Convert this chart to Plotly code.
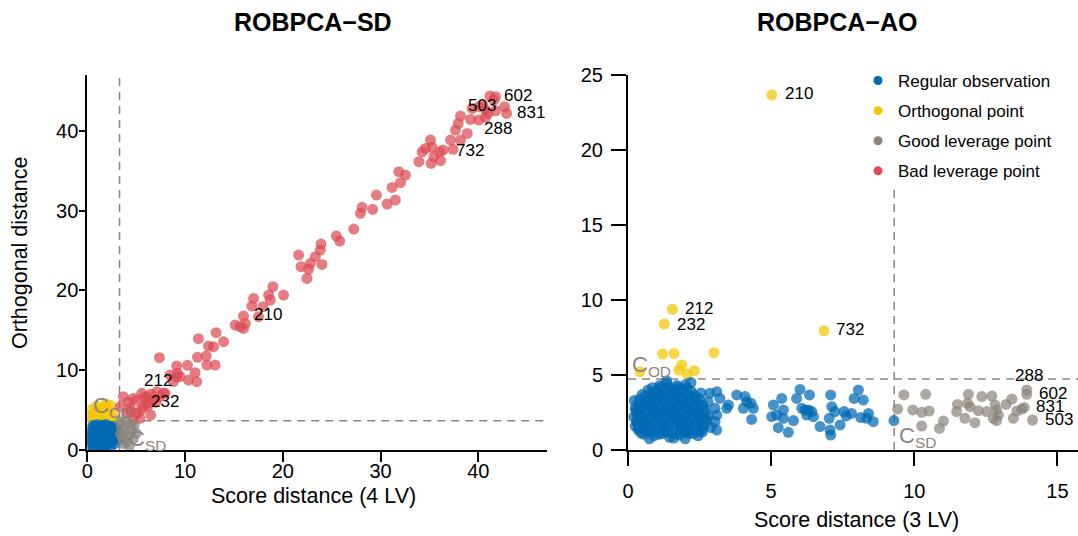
import plotly.graph_objects as go

# ---------------- ROBPCA-SD (4 LV) ----------------
sd_reg_x = [0.35, 0.6, 0.9, 1.2, 1.5, 1.8, 2.1, 0.4, 0.7, 1.0, 1.3, 1.6, 1.9, 2.2, 2.5,
            0.3, 0.6, 0.9, 1.2, 1.5, 1.8, 2.1, 2.4, 2.7, 0.45, 0.75, 1.05, 1.35, 1.65, 1.95,
            2.25, 2.55, 2.85, 0.5, 0.8, 1.1, 1.4, 1.7, 2.0, 2.3, 2.6, 3.0, 0.6, 1.0, 1.3,
            1.6, 1.9, 2.2, 0.25, 0.2, 2.9, 3.1, 3.2, 2.8, 1.1, 0.7, 1.75, 2.4, 3.0, 2.6]
sd_reg_y = [0.6, 0.4, 0.5, 0.3, 0.5, 0.4, 0.7, 1.1, 0.9, 1.2, 0.9, 1.1, 1.0, 1.3, 1.0,
            1.6, 1.8, 1.5, 1.7, 1.9, 1.6, 1.9, 1.7, 1.4, 2.3, 2.5, 2.2, 2.4, 2.6, 2.3,
            2.5, 2.2, 2.0, 2.8, 2.9, 2.7, 3.0, 2.8, 2.7, 2.9, 2.6, 2.4, 3.1, 3.2, 3.0,
            3.1, 3.2, 3.0, 2.0, 1.2, 1.8, 2.2, 1.3, 0.8, 0.15, 0.2, 0.2, 0.4, 2.7, 3.0]

sd_orth_x = [0.3, 0.6, 1.0, 1.4, 1.8, 2.2, 2.6, 0.5, 1.2, 2.0, 2.8, 1.6, 0.9, 1.9, 0.35, 2.4]
sd_orth_y = [4.2, 4.6, 4.9, 5.2, 5.4, 5.0, 4.5, 3.9, 4.3, 4.2, 3.9, 3.9, 5.5, 5.8, 5.0, 5.6]

sd_good_x = [3.5, 3.8, 4.1, 4.5, 3.6, 4.0, 4.3, 3.4, 4.8, 3.7, 5.0, 4.4, 3.9, 4.7, 3.4]
sd_good_y = [2.9, 2.3, 1.8, 2.5, 1.5, 1.0, 0.5, 3.5, 3.1, 0.8, 2.1, 3.3, 3.6, 1.4, 2.0]

sd_bad_x = [41.19, 41.77, 41.60, 40.47, 40.06, 39.38, 40.75, 41.77, 42.69, 42.90, 40.99,
            39.21, 40.06, 40.75, 38.18, 37.95, 37.67, 38.87, 38.18, 37.16, 37.43, 36.41,
            36.07, 35.11, 35.28, 34.60, 34.26, 33.92, 35.18, 36.14, 35.45, 31.87, 32.55,
            32.04, 31.18, 31.52, 30.67, 29.58, 28.11, 27.94, 29.20, 27.26, 25.48, 25.82,
            23.91, 23.84, 23.33, 24.01, 22.82, 22.64, 21.86, 21.62, 22.47, 20.08, 18.99,
            18.55, 18.72, 17.01, 17.97, 16.84, 17.52, 15.98, 15.13, 15.64, 16.16, 15.98,
            13.94, 13.18, 12.91, 12.40, 11.37, 11.27, 12.16, 13.08, 12.23, 11.03, 11.20,
            10.35, 9.50, 9.15, 10.25, 9.22, 7.38, 8.81, 9.15, 8.47, 7.79, 7.11, 5.57,
            4.71, 3.69, 4.37, 5.06, 5.74, 6.08, 6.49, 5.40, 4.71, 4.03, 3.35, 7.96, 7.45,
            6.76, 6.08, 4.2, 5.0, 5.8, 6.5, 4.5, 5.5, 6.2, 7.0]
sd_bad_y = [44.36, 44.28, 43.86, 43.23, 43.02, 42.81, 42.60, 42.52, 43.02, 42.19, 42.19,
            41.43, 41.35, 41.69, 41.85, 40.93, 40.10, 39.68, 38.84, 38.84, 37.68, 37.59,
            37.38, 38.84, 37.93, 37.80, 37.38, 36.13, 35.92, 36.26, 36.76, 34.88, 34.46,
            33.50, 32.91, 31.33, 30.83, 31.95, 30.41, 29.66, 30.16, 27.69, 26.81, 26.19,
            25.81, 25.06, 24.23, 23.26, 23.39, 22.64, 22.97, 24.43, 21.51, 19.42, 20.47,
            19.42, 18.80, 19.00, 17.96, 18.04, 16.71, 16.79, 15.66, 15.45, 15.87, 15.24,
            13.57, 14.70, 12.95, 13.03, 13.95, 11.61, 11.78, 10.65, 10.65, 9.69, 8.56,
            8.77, 9.19, 10.52, 10.61, 9.61, 11.57, 8.56, 9.19, 9.40, 7.10, 7.31, 7.10,
            6.47, 6.68, 5.22, 4.59, 5.43, 5.85, 4.38, 3.97, 3.76, 4.59, 5.43, 7.10, 6.68,
            6.26, 6.68, 6.0, 6.2, 6.6, 7.0, 4.8, 5.0, 5.5, 6.0]

sd_cut_sd, sd_cut_od = 3.3, 3.68
sd_label_ids = ["602", "503", "831", "288", "732", "210", "212", "232"]
sd_label_x = [42.46, 38.70, 43.75, 40.41, 37.50, 16.84, 5.57, 6.35]
sd_label_y = [44.49, 43.23, 42.27, 40.31, 37.59, 17.00, 8.65, 6.05]

# ---------------- ROBPCA-AO (3 LV) ----------------
ao_reg_x = [0.55, 0.9, 1.2, 1.45, 1.8, 2.1, 2.45,
            0.35, 0.65, 0.95, 1.25, 1.55, 1.85, 2.15, 2.5,
            0.25, 0.5, 0.8, 1.1, 1.4, 1.7, 2.0, 2.3, 2.65,
            0.3, 0.6, 0.9, 1.2, 1.5, 1.8, 2.1, 2.4, 2.75,
            0.2, 0.45, 0.75, 1.05, 1.35, 1.65, 1.95, 2.25, 2.55,
            0.3, 0.6, 0.9, 1.2, 1.5, 1.8, 2.1, 2.4, 2.7,
            0.25, 0.55, 0.85, 1.15, 1.45, 1.75, 2.05, 2.35, 2.65,
            0.35, 0.65, 0.95, 1.25, 1.55, 1.85, 2.15, 2.45,
            0.4, 0.7, 1.0, 1.3, 1.6, 1.9, 2.2, 2.5,
            0.5, 0.8, 1.1, 1.4, 1.7, 2.0, 2.3,
            0.7, 1.0, 1.3, 1.6, 1.9, 2.2,
            1.1, 1.35, 1.7, 2.0,
            0.45, 0.78, 1.08, 1.38, 1.68, 1.98, 2.28, 0.32, 0.62, 0.92, 1.22, 1.52, 1.82,
            2.12, 2.42, 0.4, 0.7, 1.0, 1.3, 1.6, 1.9, 2.2, 2.5, 0.52, 0.82, 1.12, 1.42,
            1.72, 2.02, 2.32, 0.6, 0.9, 1.2, 1.5, 1.8, 2.1, 2.38, 0.85, 1.15, 1.45, 1.75,
            2.05, 0.28, 0.22, 0.38, 2.6, 2.7, 2.58,
            1.35, 2.2, 2.55, 2.8, 2.9, 0.75, 1.6, 2.0, 2.8, 2.6,
            3.10, 3.21, 2.86, 3.04, 3.45, 3.51, 3.10, 3.04, 3.10, 3.80, 4.09, 4.15,
            4.30, 4.38, 4.03, 4.32, 5.08, 5.37, 5.19, 5.02, 5.43, 5.43, 5.25, 5.60,
            5.78, 6.01, 5.89, 6.07, 6.18, 6.34, 6.30, 6.42, 6.24, 6.48, 6.71, 7.08,
            7.12, 7.03, 7.23, 7.06, 7.08, 7.41, 7.55, 7.62, 7.81, 7.90, 8.05, 8.22,
            8.40, 8.34, 8.57, 8.13, 9.29]
ao_reg_y = [1.05, 0.95, 1.1, 0.85, 1.0, 1.1, 0.95,
            1.35, 1.25, 1.4, 1.3, 1.2, 1.4, 1.3, 1.25,
            1.6, 1.7, 1.55, 1.65, 1.6, 1.7, 1.55, 1.65, 1.6,
            1.95, 1.85, 2.0, 1.9, 1.95, 1.85, 2.0, 1.9, 1.95,
            2.2, 2.3, 2.15, 2.25, 2.2, 2.3, 2.15, 2.25, 2.2,
            2.5, 2.45, 2.6, 2.5, 2.55, 2.45, 2.6, 2.5, 2.55,
            2.8, 2.9, 2.75, 2.85, 2.8, 2.9, 2.75, 2.85, 2.8,
            3.1, 3.15, 3.05, 3.2, 3.1, 3.05, 3.15, 3.1,
            3.4, 3.35, 3.45, 3.4, 3.5, 3.35, 3.45, 3.4,
            3.7, 3.75, 3.65, 3.8, 3.7, 3.75, 3.65,
            4.0, 3.95, 4.1, 4.0, 4.05, 3.95,
            4.3, 4.45, 4.3, 4.35,
            1.15, 1.2, 1.05, 1.2, 1.1, 1.25, 1.1, 1.8, 1.75, 1.8, 1.7, 1.8, 1.75,
            1.8, 1.75, 2.4, 2.35, 2.4, 2.35, 2.4, 2.35, 2.4, 2.35, 2.95, 3.0, 2.95, 3.0,
            2.95, 3.0, 2.95, 3.55, 3.6, 3.55, 3.6, 3.55, 3.6, 3.55, 4.15, 4.2, 4.15, 4.2,
            4.15, 2.65, 3.3, 1.45, 3.0, 2.1, 1.4,
            4.6, 4.5, 3.8, 2.3, 1.5, 0.75, 0.8, 0.75, 3.2, 1.2,
            3.89, 3.44, 3.78, 2.78, 2.78, 3.00, 2.33, 1.89, 1.33, 3.67, 3.56, 3.22,
            3.11, 2.78, 2.78, 2.04, 3.00, 3.44, 2.33, 2.22, 2.67, 2.11, 1.49, 1.18,
            1.96, 4.04, 3.44, 2.78, 2.67, 3.67, 2.67, 2.56, 2.33, 2.22, 1.56, 3.67,
            2.89, 2.11, 2.56, 1.33, 1.00, 1.67, 2.56, 2.27, 2.44, 3.44, 4.00, 3.33,
            2.44, 2.11, 1.89, 2.16, 1.96]

ao_orth_x = [5.02, 1.55, 1.27, 6.85, 1.21, 1.61, 3.00, 1.88, 1.78, 2.32, 2.07, 0.42]
ao_orth_y = [23.67, 9.38, 8.40, 7.95, 6.40, 6.44, 6.49, 5.67, 5.33, 5.29, 5.07, 5.22]

ao_good_x = [9.64, 9.42, 9.95, 10.26, 10.52, 10.40, 10.26, 10.88, 11.02, 11.51, 11.48,
             11.89, 11.86, 11.95, 11.77, 12.12, 12.24, 12.36, 12.53, 12.71, 12.82, 12.88,
             12.76, 12.88, 12.94, 13.21, 13.41, 13.46, 13.58, 13.76, 13.93, 13.93, 13.84,
             14.13]
ao_good_y = [3.67, 2.73, 2.67, 2.51, 2.60, 3.71, 1.60, 1.44, 1.93, 3.04, 2.56,
             3.71, 3.11, 2.89, 2.11, 1.82, 2.62, 3.56, 2.56, 3.60, 3.00, 2.67,
             2.11, 1.96, 2.33, 3.04, 3.40, 2.11, 2.60, 2.73, 4.00, 3.71, 2.84,
             2.00]

ao_cut_sd, ao_cut_od = 9.3, 4.73
ao_label_ids = ["210", "212", "232", "732", "288", "602", "831", "503"]
ao_label_x = [5.41, 1.91, 1.63, 7.21, 13.44, 14.28, 14.19, 14.51]
ao_label_y = [23.78, 9.44, 8.40, 8.04, 5.00, 3.78, 2.93, 2.04]

categories = ["Regular observation", "Orthogonal point", "Good leverage point", "Bad leverage point"]
colors = {"Regular observation": "#0069B4", "Orthogonal point": "#F2C500",
          "Good leverage point": "#8C857D", "Bad leverage point": "#DD4B53"}

FONT = "Liberation Sans, Arial, Helvetica, sans-serif"
CUT_COL = "#8C857D"
W, H = 1078, 536


def px_x(p):
    return p / W


def px_y(p):
    return 1 - p / H


fig = go.Figure()

panels = [
    ("x", "y", [("Orthogonal point", sd_orth_x, sd_orth_y), ("Bad leverage point", sd_bad_x, sd_bad_y),
                ("Regular observation", sd_reg_x, sd_reg_y), ("Good leverage point", sd_good_x, sd_good_y)]),
    ("x2", "y2", [("Orthogonal point", ao_orth_x, ao_orth_y), ("Regular observation", ao_reg_x, ao_reg_y),
                  ("Good leverage point", ao_good_x, ao_good_y)]),
]
for xa, ya, groups in panels:
    for cat, xs, ys in groups:
        fig.add_trace(go.Scatter(
            x=xs, y=ys, mode="markers", xaxis=xa, yaxis=ya, showlegend=False,
            marker=dict(size=11, color=colors[cat], opacity=0.72, line=dict(width=0)),
            hoverinfo="skip"))

# legend entries
for cat in categories:
    fig.add_trace(go.Scatter(
        x=[None], y=[None], mode="markers", name=cat, xaxis="x2", yaxis="y2",
        legendgroup=cat, marker=dict(size=9, color=colors[cat])))

# cut-off lines
for xa, ya, csd, cod in [("x", "y", sd_cut_sd, sd_cut_od), ("x2", "y2", ao_cut_sd, ao_cut_od)]:
    fig.add_shape(type="line", xref=xa, yref=ya + " domain", x0=csd, x1=csd, y0=0, y1=1,
                  line=dict(color=CUT_COL, width=1.5, dash="8px,6px"), layer="below")
    fig.add_shape(type="line", xref=xa + " domain", yref=ya, x0=0, x1=1, y0=cod, y1=cod,
                  line=dict(color=CUT_COL, width=1.5, dash="8px,6px"), layer="below")

# cut-off labels
cut_labels = [("x", "y", 0.38, 5.4, "C<sub>OD</sub>"), ("x", "y", 4.1, 1.2, "C<sub>SD</sub>"),
              ("x2", "y2", 0.07, 5.6, "C<sub>OD</sub>"), ("x2", "y2", 9.4, 0.85, "C<sub>SD</sub>")]
for xa, ya, x, y, t in cut_labels:
    fig.add_annotation(x=x, y=y, xref=xa, yref=ya, text=t, showarrow=False, xanchor="left",
                       yanchor="middle", font=dict(family=FONT, size=22, color=CUT_COL))

# point labels
for xa, ya, ids, lx, ly in [("x", "y", sd_label_ids, sd_label_x, sd_label_y),
                            ("x2", "y2", ao_label_ids, ao_label_x, ao_label_y)]:
    for t, x, y in zip(ids, lx, ly):
        fig.add_annotation(x=x, y=y, xref=xa, yref=ya, text=t, showarrow=False, xanchor="left",
                           yanchor="middle", font=dict(family=FONT, size=17, color="black"))

# titles
for txt, cx, cy, size, bold, angle in [
    ("ROBPCA−SD", 313, 22, 25, True, 0), ("ROBPCA−AO", 837, 22, 25, True, 0),
    ("Score distance (4 LV)", 313, 496, 21.5, False, 0), ("Score distance (3 LV)", 856, 520, 21.5, False, 0),
    ("Orthogonal distance", 20, 253, 21.5, False, -90)]:
    fig.add_annotation(x=px_x(cx), y=px_y(cy), xref="paper", yref="paper",
                       text=f"<b>{txt}</b>" if bold else txt, showarrow=False, textangle=angle,
                       xanchor="center", yanchor="middle", font=dict(family=FONT, size=size, color="black"))

axis_common = dict(showline=True, linecolor="black", linewidth=2, ticks="outside", tickwidth=2,
                   tickcolor="black", showgrid=False, zeroline=False,
                   tickfont=dict(family=FONT, size=20, color="black"))

fig.update_layout(
    width=W, height=H, margin=dict(l=0, r=0, t=0, b=0, autoexpand=False),
    paper_bgcolor="white", plot_bgcolor="white",
    xaxis=dict(domain=[px_x(87.3), px_x(546.7)], range=[0, 47], tickvals=[0, 10, 20, 30, 40],
               ticklen=10, ticklabelstandoff=-8, anchor="y", **axis_common),
    yaxis=dict(domain=[px_y(450), px_y(75)], range=[0, 47], tickvals=[0, 10, 20, 30, 40],
               ticklen=6, ticklabelstandoff=-3, anchor="x", **axis_common),
    xaxis2=dict(domain=[px_x(628), 1.0], range=[0, 15.72], tickvals=[0, 5, 10, 15],
                ticklen=14, ticklabelstandoff=8, anchor="y2", **axis_common),
    yaxis2=dict(domain=[px_y(450), px_y(75)], range=[0, 25], tickvals=[0, 5, 10, 15, 20, 25],
                ticklen=15, ticklabelstandoff=4, anchor="x2", **axis_common),
    legend=dict(x=px_x(858), y=px_y(63), xanchor="left", yanchor="top", bgcolor="white",
                font=dict(family=FONT, size=17, color="black"), tracegroupgap=5,
                itemclick=False, itemdoubleclick=False),
    showlegend=True,
)

fig.write_html("out.html")
